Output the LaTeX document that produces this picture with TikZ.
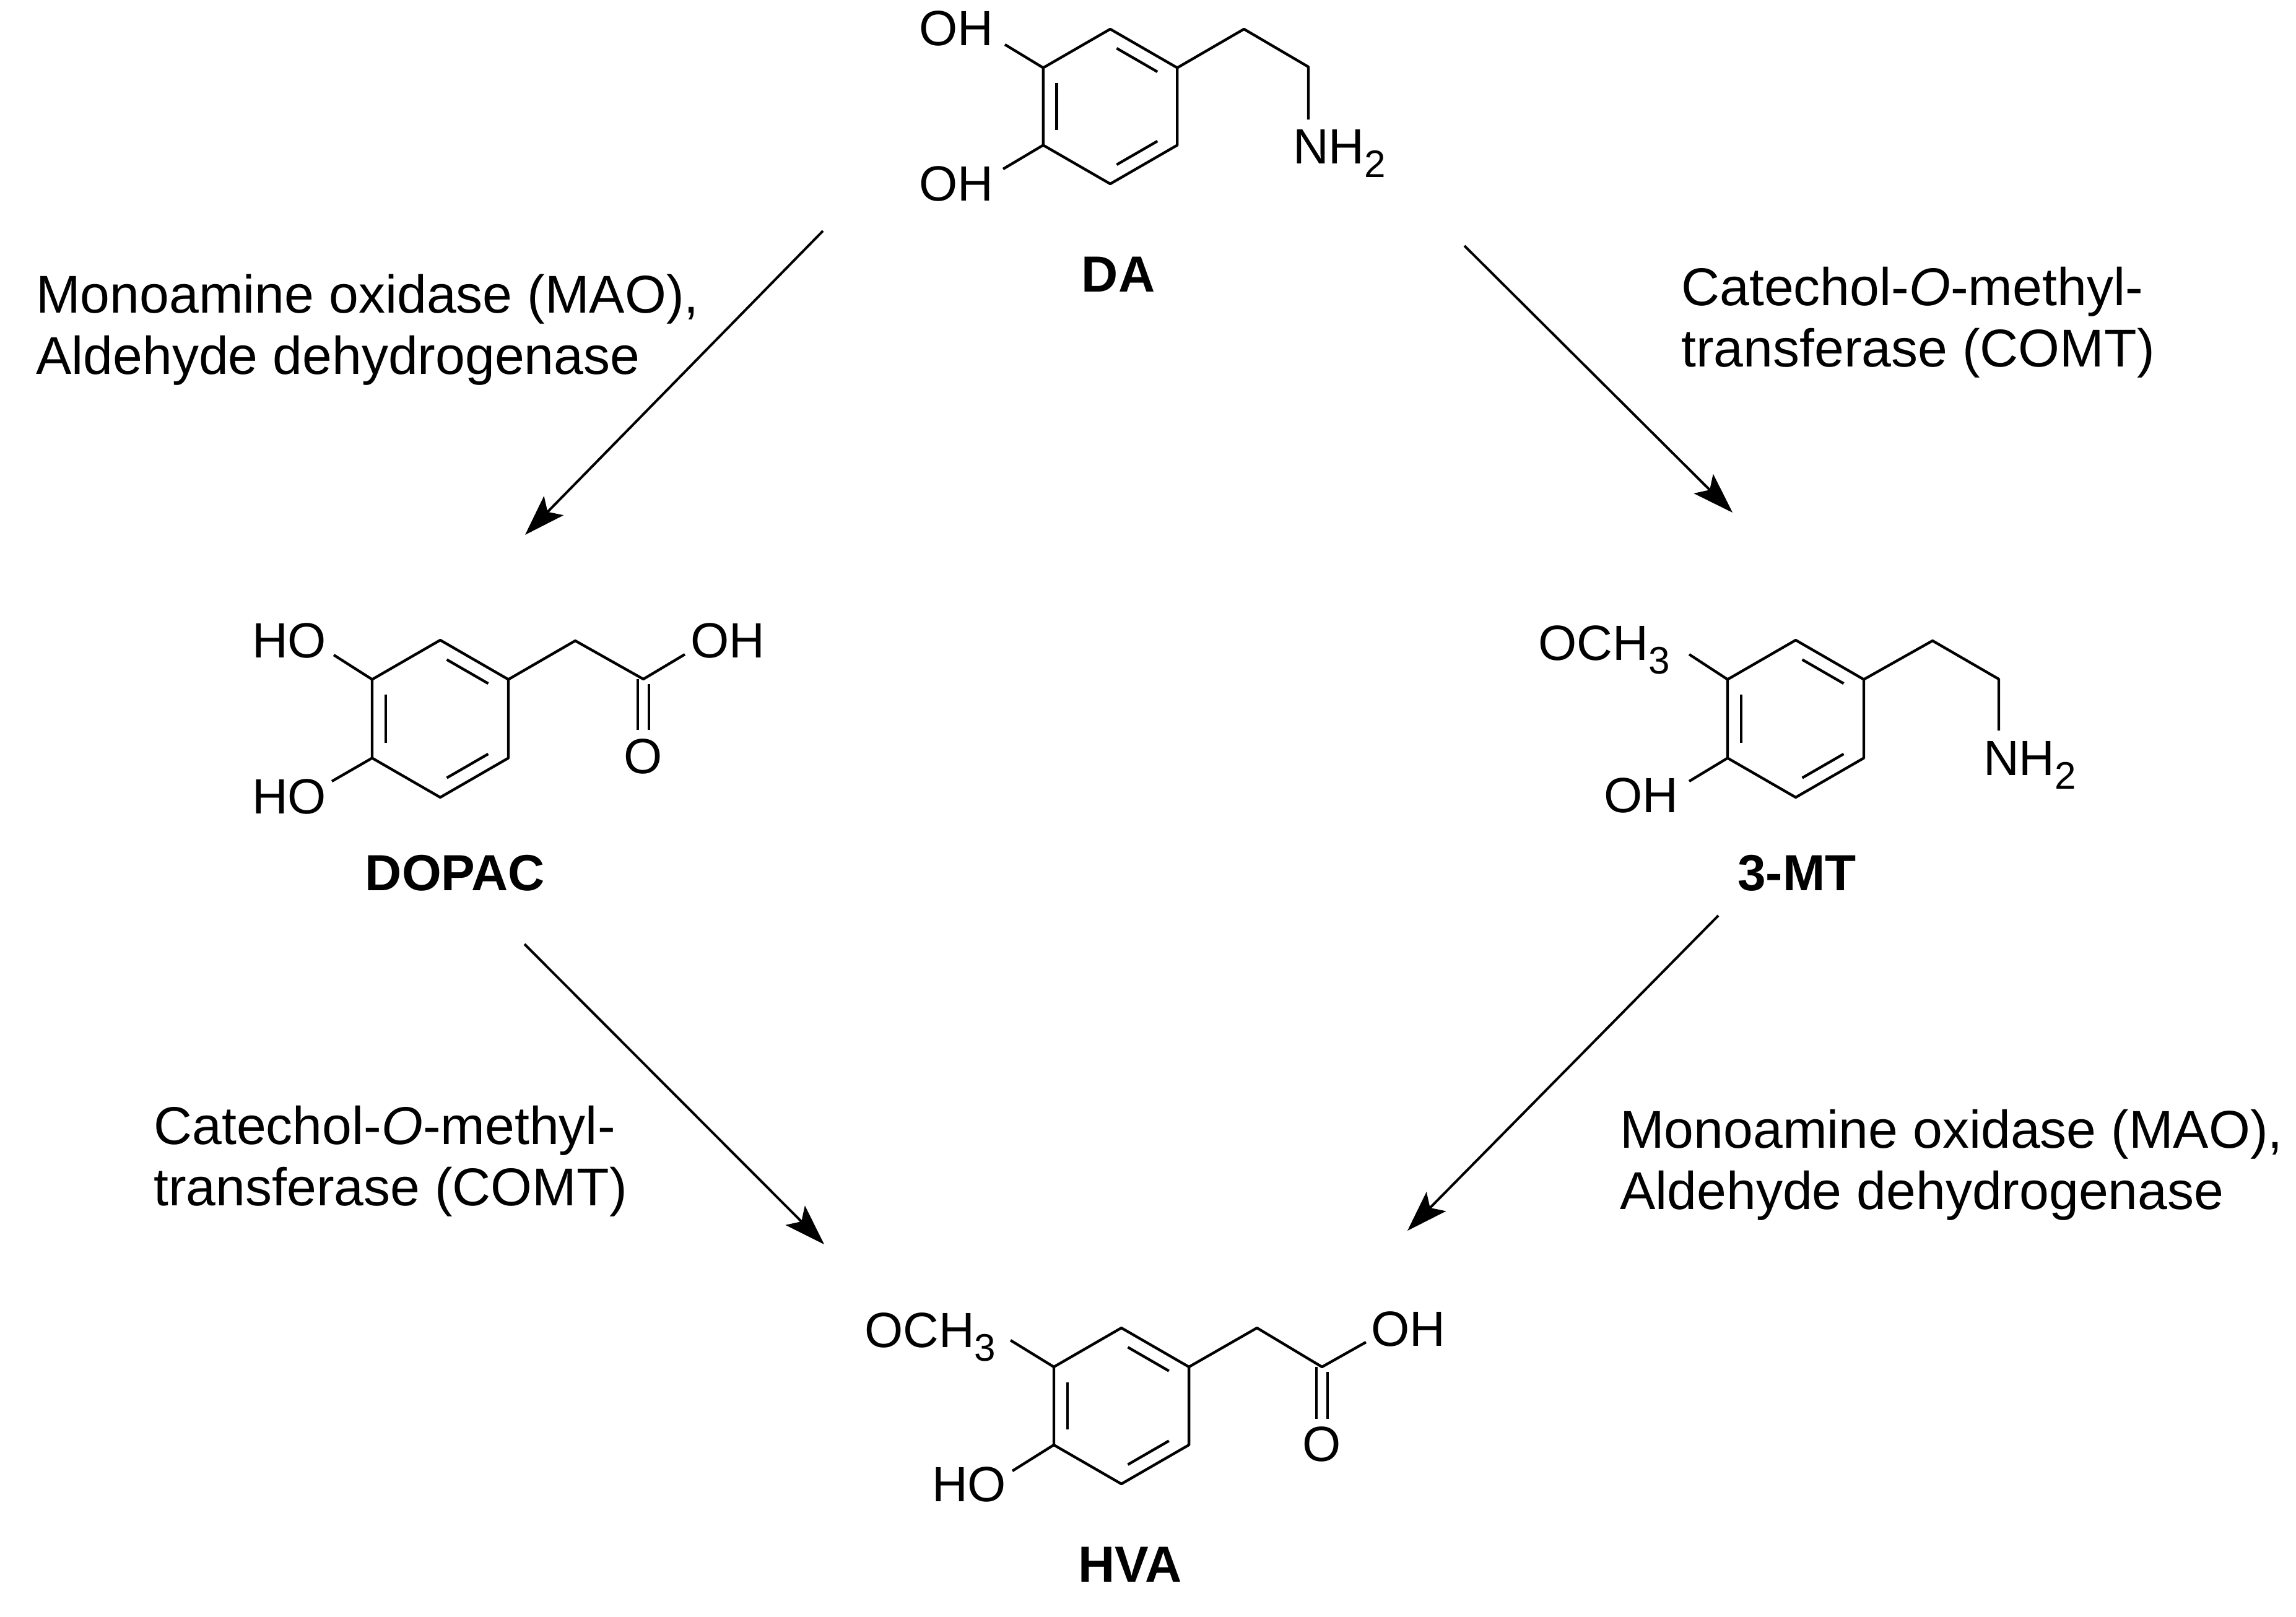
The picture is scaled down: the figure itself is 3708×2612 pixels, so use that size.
\documentclass[tikz,border=0pt]{standalone}
\usepackage{fontspec}
\setmainfont{Liberation Sans}
\usetikzlibrary{calc,arrows.meta}
\newcommand\benz[3]{%
  \foreach \i/\a in {1/270,2/210,3/150,4/90,5/30,6/330}{%
    \coordinate (#1\i) at ($(#2)+(\a:#3)$);
    \coordinate (#1i\i) at ($(#2)+(\a:#3*0.8)$);}
  \draw[bond] (#11)--(#12)--(#13)--(#14)--(#15)--(#16)--cycle;
  \draw[bond] ($(#1i2)!0.12!(#1i3)$)--($(#1i2)!0.88!(#1i3)$);
  \draw[bond] ($(#1i1)!0.12!(#1i6)$)--($(#1i1)!0.88!(#1i6)$);
  \draw[bond] ($(#1i4)!0.12!(#1i5)$)--($(#1i4)!0.88!(#1i5)$);
}
\newcommand\sub[1]{\raisebox{-0.28em}{\fontsize{62}{62}\selectfont #1}}
\tikzset{
  bond/.style={line width=4.3pt,line join=round},
  atom/.style={inner sep=0pt,font=\fontsize{80}{96}\selectfont},
  cmpd/.style={inner sep=0pt,font=\fontsize{82}{98}\selectfont\bfseries},
  enz/.style={inner sep=0pt,align=left,anchor=base west,font=\fontsize{86}{99}\selectfont},
  rxn/.style={line width=4pt,-{Stealth[length=66pt,width=44pt,inset=14pt]}}
}
\begin{document}
\begin{tikzpicture}[x=1pt,y=-1pt]
\useasboundingbox[fill=white] (0,0) rectangle (3708,2612);
% ---------- DA ----------
\coordinate (dc) at (1793,172);
\benz{d}{dc}{125}
\node[atom] (dOH1) at (1544,46) {OH};
\node[atom] (dOH2) at (1544,297) {OH};
\draw[bond] (d2)--(1623,72);
\draw[bond] (d3)--(1620,273);
\coordinate (da) at (2009,47); \coordinate (db) at (2113,108); \coordinate (dn) at (2113,193);
\draw[bond] (d6)--(da)--(db)--(dn);
\node[atom,anchor=base west] (dNH) at (2088,264) {NH\sub{2}};
\node[cmpd] (DA) at (1806,443) {DA};
% ---------- DOPAC ----------
\coordinate (pc) at (711,1161);
\benz{p}{pc}{127}
\node[atom] (pHO1) at (467,1035) {HO};
\node[atom] (pHO2) at (467,1287) {HO};
\draw[bond] (p2)--(539,1058);
\draw[bond] (p3)--(536,1262);
\coordinate (pa) at (929,1035); \coordinate (pC) at (1039,1097);
\draw[bond] (p6)--(pa)--(pC)--(1106,1057);
\node[atom] (pOH) at (1175,1035) {OH};
\node[atom] (pO) at (1039,1222) {O};
\draw[bond] ($(pC)+(-9,0)$)--($(pC)+(-9,82)$);
\draw[bond] ($(pC)+(9,8)$)--($(pC)+(9,82)$);
\node[cmpd] (DOPAC) at (735,1410) {DOPAC};
% ---------- 3-MT ----------
\coordinate (mc) at (2900,1161);
\benz{m}{mc}{127}
\node[atom,anchor=base west] (mOMe) at (2484,1066) {OCH\sub{3}};
\node[atom] (mOH) at (2650,1285) {OH};
\draw[bond] (m2)--(2728,1057);
\draw[bond] (m3)--(2728,1262);
\coordinate (ma) at (3121,1035); \coordinate (mb) at (3228,1097); \coordinate (mn) at (3228,1180);
\draw[bond] (m6)--(ma)--(mb)--(mn);
\node[atom,anchor=base west] (mNH) at (3203,1252) {NH\sub{2}};
\node[cmpd] (MT) at (2902,1410) {3-MT};
% ---------- HVA ----------
\coordinate (hc) at (1811,2271);
\benz{h}{hc}{126}
\node[atom,anchor=base west] (hOMe) at (1396,2176) {OCH\sub{3}};
\node[atom] (hHO) at (1565,2398) {HO};
\draw[bond] (h2)--(1632,2165);
\draw[bond] (h3)--(1635,2376);
\coordinate (ha) at (2030,2145); \coordinate (hC) at (2135,2208);
\draw[bond] (h6)--(ha)--(hC)--(2206,2168);
\node[atom] (hOH) at (2274,2147) {OH};
\node[atom] (hO) at (2135,2333) {O};
\draw[bond] ($(hC)+(-9,0)$)--($(hC)+(-9,84)$);
\draw[bond] ($(hC)+(9,8)$)--($(hC)+(9,84)$);
\node[cmpd] (HVA) at (1825,2527) {HVA};
% ---------- arrows ----------
\coordinate (a1s) at (1329,373); \coordinate (a1e) at (848,864);
\coordinate (a2s) at (2365,397); \coordinate (a2e) at (2798,828);
\coordinate (a3s) at (847,1525); \coordinate (a3e) at (1331,2010);
\coordinate (a4s) at (2775,1479); \coordinate (a4e) at (2273,1988);
\draw[rxn] (a1s)--(a1e);
\draw[rxn] (a2s)--(a2e);
\draw[rxn] (a3s)--(a3e);
\draw[rxn] (a4s)--(a4e);
% ---------- enzyme labels ----------
\node[enz] (e1) at (58,604) {Monoamine oxidase (MAO),\\Aldehyde dehydrogenase};
\node[enz] (e2) at (2715,592) {Catechol-\textit{O}-methyl-\\transferase (COMT)};
\node[enz] (e3) at (248,1947) {Catechol-\textit{O}-methyl-\\transferase (COMT)};
\node[enz] (e4) at (2616,1953) {Monoamine oxidase (MAO),\\Aldehyde dehydrogenase};
\end{tikzpicture}
\end{document}
